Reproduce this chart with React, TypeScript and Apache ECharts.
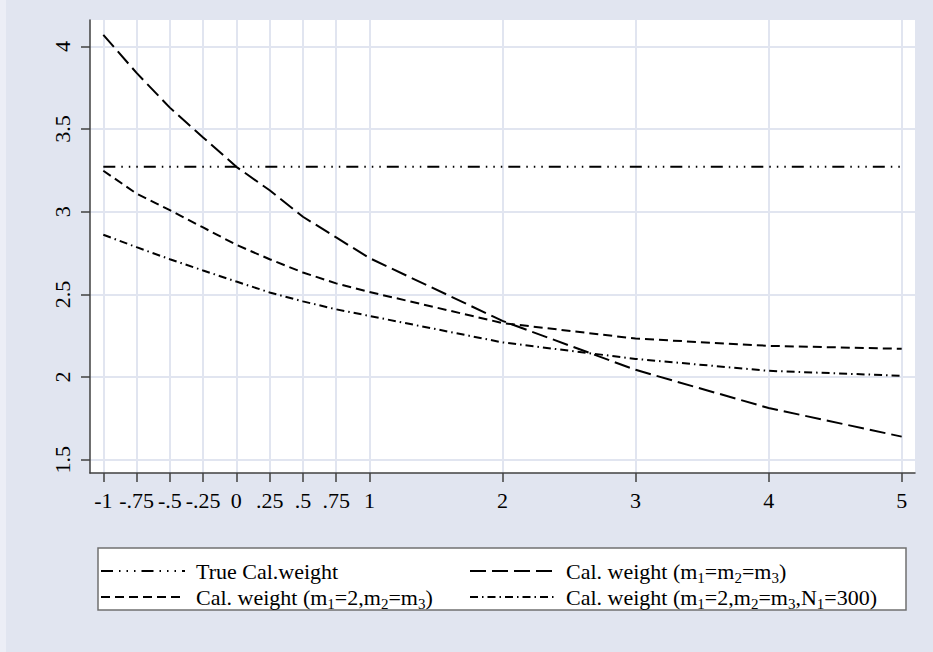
import React, { useEffect, useRef } from 'react';
import * as echarts from 'echarts';

// x positions at which the curves were evaluated
const xValues = [-1, -0.75, -0.5, -0.25, 0, 0.25, 0.5, 0.75, 1, 2, 3, 4, 5];

// series values
const trueCalWeight = [3.272, 3.272, 3.272, 3.272, 3.272, 3.272, 3.272, 3.272, 3.272, 3.272, 3.272, 3.272, 3.272];
const calEqual = [4.07, 3.84, 3.63, 3.45, 3.272, 3.13, 2.97, 2.845, 2.72, 2.34, 2.044, 1.813, 1.64];
const calM1Two = [3.248, 3.11, 3.01, 2.905, 2.8, 2.713, 2.633, 2.567, 2.515, 2.327, 2.233, 2.189, 2.171];
const calN300 = [2.861, 2.786, 2.713, 2.645, 2.578, 2.512, 2.458, 2.41, 2.37, 2.21, 2.11, 2.038, 2.008];

// tick values and labels
const xTickValues = [-1, -0.75, -0.5, -0.25, 0, 0.25, 0.5, 0.75, 1, 2, 3, 4, 5];
const xTickLabels = ['-1', '-.75', '-.5', '-.25', '0', '.25', '.5', '.75', '1', '2', '3', '4', '5'];
const yTickValues = [1.5, 2, 2.5, 3, 3.5, 4];
const yTickLabels = ['1.5', '2', '2.5', '3', '3.5', '4'];

// legend entries: pieces of [text, isSubscript]
const legendTrue: [string, boolean][] = [['True Cal.weight', false]];
const legendEqual: [string, boolean][] = [
  ['Cal. weight (m', false], ['1', true], ['=m', false], ['2', true], ['=m', false], ['3', true], [')', false],
];
const legendM1: [string, boolean][] = [
  ['Cal. weight (m', false], ['1', true], ['=2,m', false], ['2', true], ['=m', false], ['3', true], [')', false],
];
const legendN: [string, boolean][] = [
  ['Cal. weight (m', false], ['1', true], ['=2,m', false], ['2', true], ['=m', false], ['3', true],
  [',N', false], ['1', true], ['=300)', false],
];

const FONT = 'Liberation Serif';
const BG = '#e1e5f0';
const GRID = '#e1e5f0';
const AXIS = '#404040';
const MAIN_SIZE = 22;
const SUB_SIZE = 15;
const TICK_SIZE = 22;

const dashTrue = [12, 6, 1.5, 6, 1.5, 6, 1.5, 6];
const dashEqual = [16, 6];
const dashM1 = [9, 5];
const dashN = [8, 4, 1.5, 4];

function pairs(ys: number[]) {
  return xValues.map((x, i) => [x, ys[i]]);
}

function lookup(vals: number[], labels: string[], v: number) {
  const i = vals.findIndex((t) => Math.abs(t - v) < 1e-6);
  return i >= 0 ? labels[i] : '';
}

function measure(text: string, size: number) {
  const c = document.createElement('canvas').getContext('2d');
  if (!c) return text.length * size * 0.5;
  c.font = size + 'px ' + FONT;
  return c.measureText(text).width;
}

export default function App() {
  const ref = useRef<HTMLDivElement>(null);
  useEffect(() => {
    if (!ref.current) return;
    const chart = echarts.init(ref.current, undefined, { renderer: 'svg' });

    const lineSeries = (name: string, ys: number[], dash: number[]) => ({
      name,
      type: 'line',
      data: pairs(ys),
      symbol: 'none',
      lineStyle: { color: '#000', width: 2, type: dash },
      z: 3,
    });

    const legendText = (x0: number, y: number, pieces: [string, boolean][]) => {
      const out: any[] = [];
      let x = x0;
      pieces.forEach(([t, sub]) => {
        const size = sub ? SUB_SIZE : MAIN_SIZE;
        out.push({
          type: 'text',
          x,
          y: sub ? y + 7 : y,
          style: {
            text: t,
            fontSize: size,
            fontFamily: FONT,
            fill: '#000',
            verticalAlign: 'middle',
            align: 'left',
          },
          z: 10,
        });
        x += measure(t, size);
      });
      return out;
    };
    const legendLine = (x1: number, x2: number, y: number, dash: number[]) => ({
      type: 'line',
      shape: { x1, y1: y, x2, y2: y },
      style: { stroke: '#000', lineWidth: 2, lineDash: dash },
      z: 10,
    });

    chart.setOption({
      animation: false,
      backgroundColor: BG,
      textStyle: { fontFamily: FONT, fontSize: TICK_SIZE, color: '#000' },
      grid: {
        left: 90,
        top: 20,
        right: 18,
        bottom: 179,
        show: true,
        backgroundColor: '#ffffff',
        borderWidth: 0,
      },
      xAxis: {
        type: 'value',
        min: -1.1,
        max: 5.1,
        interval: 0.05,
        axisLine: { show: true, onZero: false, lineStyle: { color: AXIS, width: 1.5 } },
        axisTick: { show: true, length: 9, customValues: xTickValues, lineStyle: { color: AXIS, width: 1.5 } },
        axisLabel: {
          formatter: (v: number) => lookup(xTickValues, xTickLabels, v),
          fontFamily: FONT,
          fontSize: TICK_SIZE,
          color: '#000',
          margin: 16,
          hideOverlap: false,
          showMinLabel: true,
          showMaxLabel: true,
        },
        splitLine: { show: true, lineStyle: { color: GRID, width: 2 } },
      },
      yAxis: {
        type: 'value',
        min: 1.42,
        max: 4.16,
        interval: 0.02,
        axisLine: { show: true, onZero: false, lineStyle: { color: AXIS, width: 1.5 } },
        axisTick: { show: true, length: 9, customValues: yTickValues, lineStyle: { color: AXIS, width: 1.5 } },
        axisLabel: {
          formatter: (v: number) => lookup(yTickValues, yTickLabels, v),
          fontFamily: FONT,
          fontSize: TICK_SIZE,
          color: '#000',
          rotate: 90,
          margin: 17,
          hideOverlap: false,
        },
        splitLine: { show: true, lineStyle: { color: GRID, width: 2 } },
      },
      series: [
        lineSeries('True Cal.weight', trueCalWeight, dashTrue),
        lineSeries('Cal. weight (m1=m2=m3)', calEqual, dashEqual),
        lineSeries('Cal. weight (m1=2,m2=m3)', calM1Two, dashM1),
        lineSeries('Cal. weight (m1=2,m2=m3,N1=300)', calN300, dashN),
      ],
      graphic: [
        {
          type: 'rect',
          shape: { x: 0, y: 0, width: 6, height: 652 },
          style: { fill: '#eceef6' },
          z: 1,
        },
        {
          type: 'rect',
          shape: { x: 98, y: 548, width: 808, height: 62 },
          style: { fill: '#ffffff', stroke: '#707070', lineWidth: 1.5 },
          z: 9,
        },
        legendLine(101, 185, 571, dashTrue),
        ...legendText(196, 571, legendTrue),
        legendLine(470, 555, 571, dashEqual),
        ...legendText(566, 571, legendEqual),
        legendLine(101, 185, 597, dashM1),
        ...legendText(196, 597, legendM1),
        legendLine(470, 555, 597, dashN),
        ...legendText(566, 597, legendN),
      ],
    });
    return () => chart.dispose();
  }, []);
  return (
    <div
      ref={ref}
      style={{ position: 'fixed', left: 0, top: 0, width: 933, height: 652 }}
    />
  );
}
